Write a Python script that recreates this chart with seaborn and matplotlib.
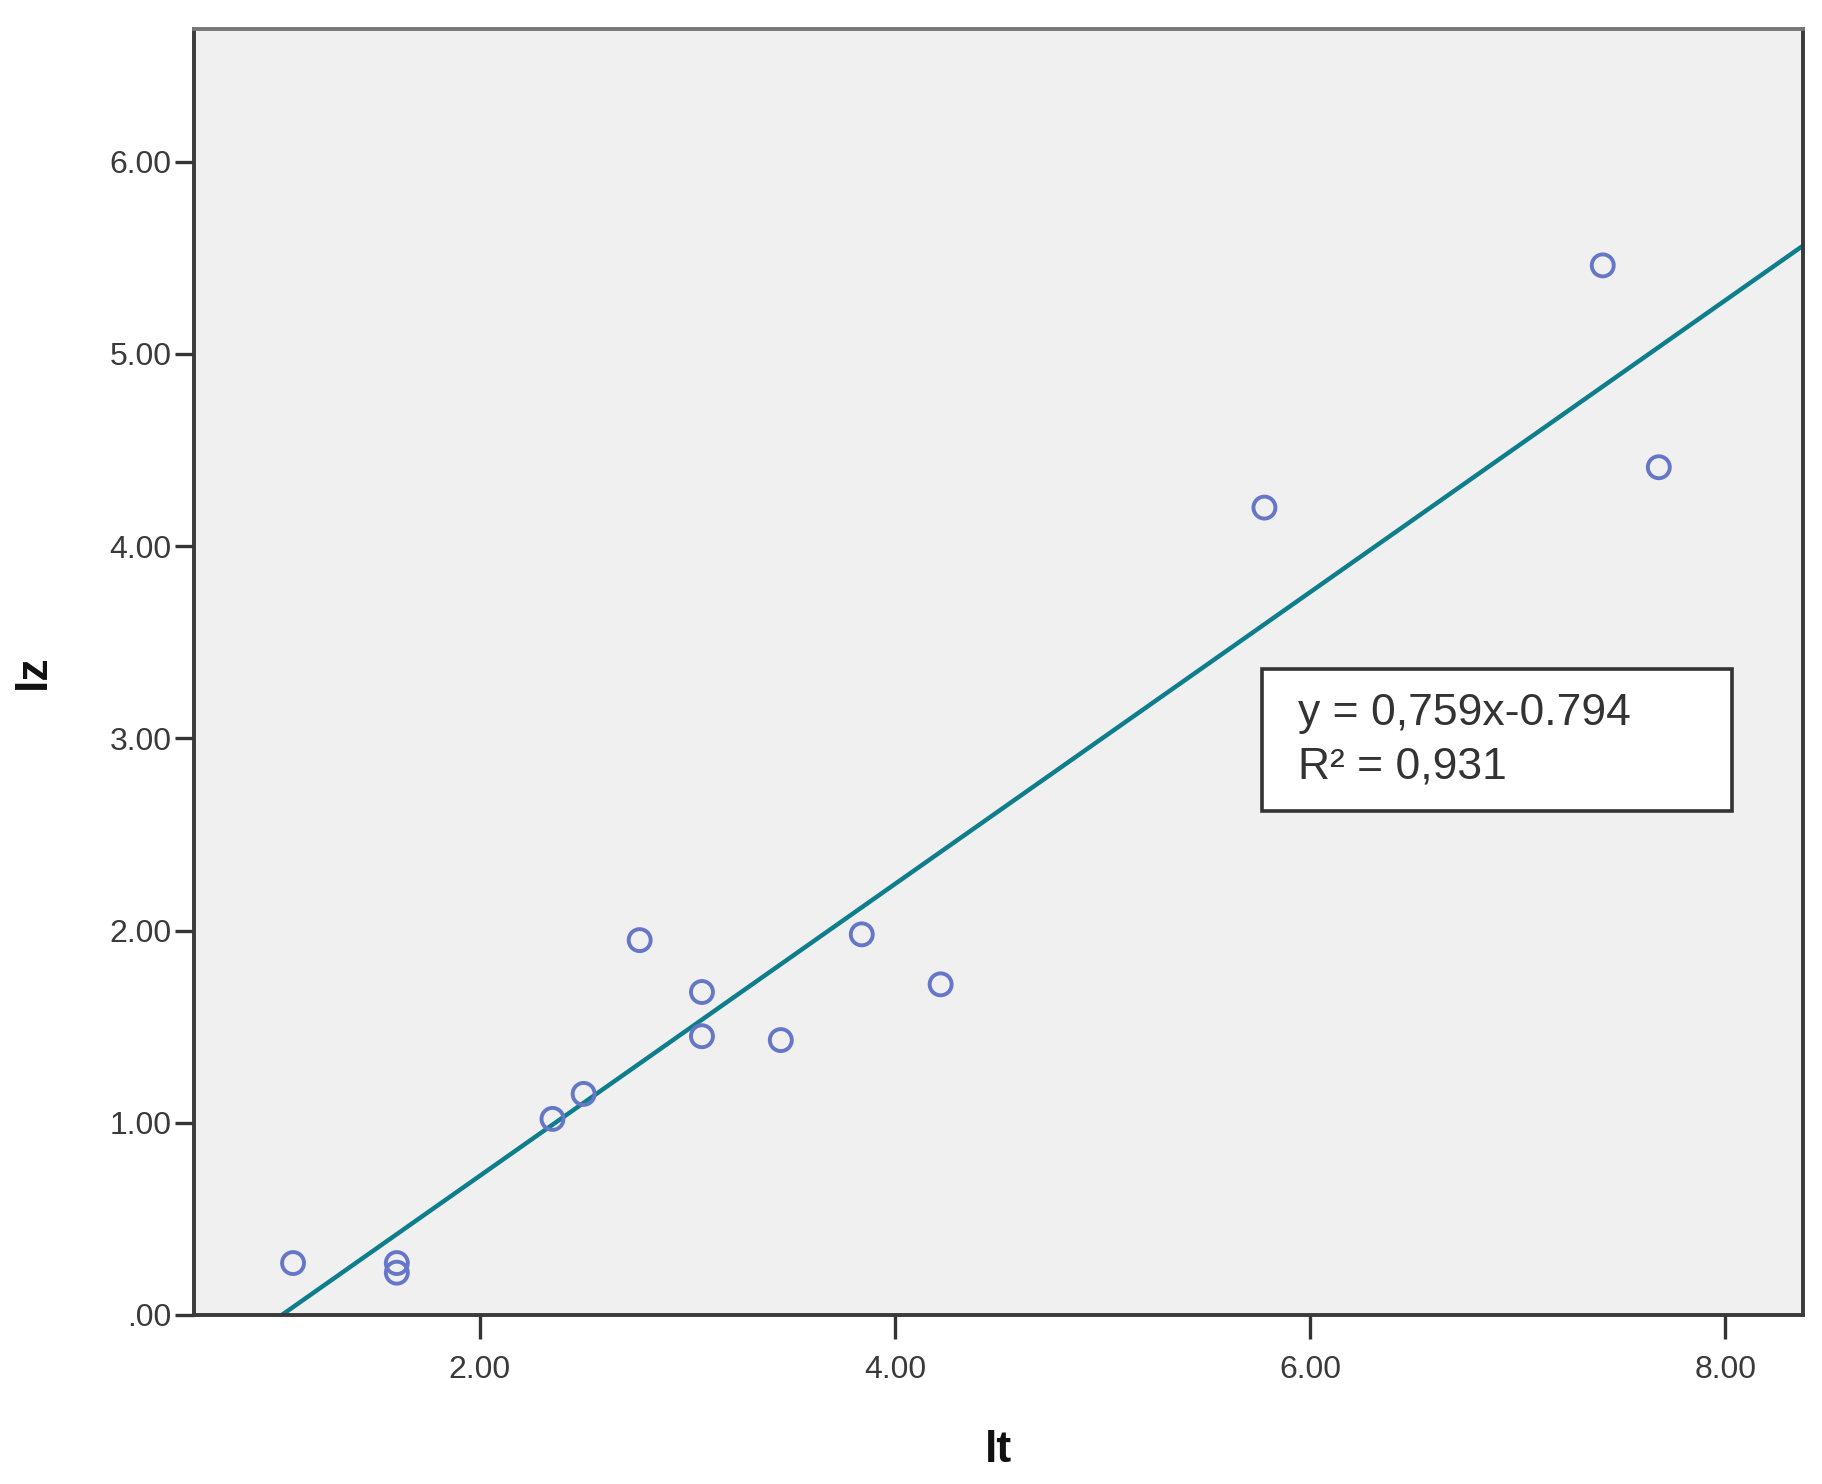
import matplotlib
matplotlib.use("Agg")
import matplotlib.pyplot as plt
import seaborn as sns
import numpy as np
import pandas as pd
from matplotlib.patches import Rectangle

# ---- data ----
lt_values = [1.10, 1.60, 1.60, 2.35, 2.50, 2.77, 3.07, 3.07, 3.45, 3.84, 4.22, 5.78, 7.41, 7.68]
lz_values = [0.27, 0.27, 0.22, 1.02, 1.15, 1.95, 1.68, 1.45, 1.43, 1.98, 1.72, 4.20, 5.46, 4.41]
fit_slope = 0.759
fit_intercept = -0.794
x_ticks = [2.0, 4.0, 6.0, 8.0]
x_tick_labels = ["2.00", "4.00", "6.00", "8.00"]
y_ticks = [0, 1, 2, 3, 4, 5, 6]
y_tick_labels = [".00", "1.00", "2.00", "3.00", "4.00", "5.00", "6.00"]
eq_lines = ["y = 0,759x-0.794", "R² = 0,931"]

sns.set_theme(style="white")
plt.rcParams['font.family'] = ['Liberation Sans', 'DejaVu Sans']

fig = plt.figure(figsize=(18.22, 14.84), dpi=100)
ax = fig.add_axes([0.1065, 0.1139, 0.8831, 0.8666])
ax.set_facecolor("#F0F0F0")

df = pd.DataFrame({"lt": lt_values, "lz": lz_values})
sns.scatterplot(data=df, x="lt", y="lz", ax=ax, s=250, marker="o",
                facecolor="none", edgecolor="#6577C6", linewidth=2.8, zorder=3)

xlim = (0.623, 8.375)
ylim = (0.0, 6.69)
xs = np.array(xlim)
line_df = pd.DataFrame({"x": xs, "y": fit_slope * xs + fit_intercept})
sns.lineplot(data=line_df, x="x", y="y", ax=ax, color="#0E7E8C", linewidth=3.2, zorder=2)

ax.set_xlim(*xlim)
ax.set_ylim(*ylim)
ax.set_xticks(x_ticks)
ax.set_xticklabels(x_tick_labels)
ax.set_yticks(y_ticks)
ax.set_yticklabels(y_tick_labels)
ax.tick_params(axis="both", which="major", labelsize=23, labelcolor="#3a3a3a",
               color="#333333", width=2.4, length=14, direction="out",
               bottom=True, left=True, top=False, right=False)
ax.tick_params(axis="x", length=17, pad=12)
ax.tick_params(axis="y", pad=2)
for side, sp in ax.spines.items():
    sp.set_visible(True)
    sp.set_color("#3a3a3a")
    sp.set_linewidth(2.8)
ax.spines["top"].set_color("#777777")

ax.set_xlabel("lt", fontsize=32, fontweight="bold", color="#111111", labelpad=32)
ax.set_ylabel("lz", fontsize=32, fontweight="bold", color="#111111", labelpad=40)

# equation box
rect = Rectangle((0.664, 0.392), 0.292, 0.110, transform=ax.transAxes,
                 facecolor="white", edgecolor="#333333", linewidth=2.6, zorder=4)
ax.add_patch(rect)
ax.text(0.686, 0.468, eq_lines[0], transform=ax.transAxes, fontsize=32,
        color="#333333", va="center", ha="left", zorder=5)
ax.text(0.686, 0.426, eq_lines[1], transform=ax.transAxes, fontsize=32,
        color="#333333", va="center", ha="left", zorder=5)

if ax.get_legend() is not None:
    ax.get_legend().remove()

fig.savefig("out.png", dpi=100)
